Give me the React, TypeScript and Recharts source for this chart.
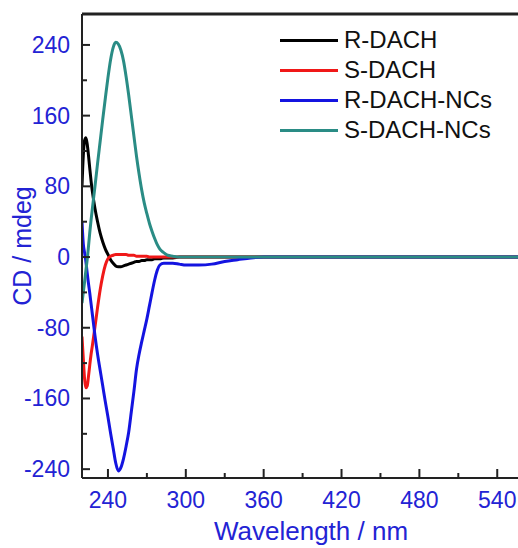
import { Legend, Line, LineChart, ReferenceLine, XAxis, YAxis } from "recharts"

const wavelengths = [
  220, 221, 222, 223, 224, 225, 226, 227, 228, 230, 232, 234, 236, 238, 240, 242, 244, 246, 248, 250,
  252, 254, 256, 258, 260, 262, 264, 266, 268, 270, 272, 274, 276, 278, 280, 283, 286, 290, 295, 300,
  310, 320, 330, 340, 350, 360, 380, 400, 420, 440, 460, 480, 500, 520, 540, 556,
]

const rDach = [
  80, 115, 132, 135, 128, 115, 100, 86, 74, 55, 40, 27, 17, 9, 3, -3, -7, -10, -11, -11,
  -10, -9, -8, -7, -6, -5, -5, -4, -4, -3, -3, -3, -2, -2, -2, -1, -1, -1, 0, 0,
  0, 0, 0, 0, 0, 0, 0, 0, 0, 0, 0, 0, 0, 0, 0, 0,
]

const sDach = [
  -90, -115, -138, -148, -146, -135, -122, -110, -100, -79, -57, -37, -21, -9, -2, 1, 2, 3, 3, 3,
  3, 3, 2, 2, 2, 1, 1, 1, 1, 1, 0, 0, 0, 0, 0, 0, 0, 0, 0, 0,
  0, 0, 0, 0, 0, 0, 0, 0, 0, 0, 0, 0, 0, 0, 0, 0,
]

const rDachNcs = [
  40, 15, 5, -5, -18, -30, -41, -53, -65, -89, -110, -128, -146, -164, -181, -199, -216, -233, -242, -238,
  -228, -214, -198, -175, -152, -127, -110, -96, -83, -70, -55, -40, -26, -15, -9, -7, -7, -7, -8, -9,
  -9, -8, -5, -3, -1, 0, 0, 0, 0, 0, 0, 0, 0, 0, 0, 0,
]

const sDachNcs = [
  -52, -40, -28, -15, -3, 12, 28, 42, 55, 80, 106, 131, 156, 180, 203, 223, 237, 243, 241, 234,
  222, 204, 183, 160, 137, 114, 94, 76, 61, 49, 38, 29, 21, 14, 9, 5, 2, 1, 0, 0,
  0, 0, 0, 0, 0, 0, 0, 0, 0, 0, 0, 0, 0, 0, 0, 0,
]

const seriesNames = ["R-DACH", "S-DACH", "R-DACH-NCs", "S-DACH-NCs"]
const seriesKeys = ["r", "s", "rn", "sn"]
const seriesColors = ["#000000", "#f01818", "#1414e0", "#2a8c85"]

const xTicks = [240, 270, 300, 330, 360, 390, 420, 450, 480, 510, 540]
const yTicks = [-240, -200, -160, -120, -80, -40, 0, 40, 80, 120, 160, 200, 240]

const data = wavelengths.map((wl, i) => ({
  wl,
  r: rDach[i],
  s: sDach[i],
  rn: rDachNcs[i],
  sn: sDachNcs[i],
}))

const FONT = "'Liberation Sans', Arial, sans-serif"
const BLUE = "#2323d4"
const AXIS = "#222222"

function YTick(props: any) {
  const { x, y, payload } = props
  const major = payload.value % 80 === 0
  return (
    <g>
      <path d={`M${x + 12},${y}h${major ? 8 : 5}`} stroke={AXIS} strokeWidth={2} fill="none" />
      {major && (
        <text x={x} y={y} dy={8} textAnchor="end" fill={BLUE} stroke="none" fontSize={23} fontFamily={FONT}>
          {payload.value}
        </text>
      )}
    </g>
  )
}

function XTick(props: any) {
  const { x, y, payload } = props
  const major = payload.value % 60 === 0
  return (
    <g>
      <path d={`M${x},${y}v${major ? -9 : -5}`} stroke={AXIS} strokeWidth={2} fill="none" />
      {major && (
        <text x={x} y={y + 30} textAnchor="middle" fill={BLUE} stroke="none" fontSize={23} fontFamily={FONT}>
          {payload.value}
        </text>
      )}
    </g>
  )
}

function YTitle({ viewBox }: any) {
  const cx = viewBox.x + 22
  const cy = viewBox.y + viewBox.height / 2
  return (
    <text
      x={cx}
      y={cy}
      transform={`rotate(-90 ${cx} ${cy})`}
      textAnchor="middle"
      dominantBaseline="central"
      fill={BLUE}
      fontSize={25}
      fontFamily={FONT}
    >
      CD / mdeg
    </text>
  )
}

function XTitle({ viewBox }: any) {
  const cx = viewBox.x + viewBox.width / 2 + 11
  const cy = viewBox.y + 62
  return (
    <text x={cx} y={cy} textAnchor="middle" fill={BLUE} fontSize={26} fontFamily={FONT}>
      Wavelength / nm
    </text>
  )
}

function LegendBox() {
  return (
    <div style={{ fontFamily: FONT, fontSize: 24, lineHeight: "30px", color: "#111" }}>
      {seriesNames.map((name, i) => (
        <div key={name} style={{ display: "flex", alignItems: "center", whiteSpace: "nowrap" }}>
          <span
            style={{ display: "inline-block", width: 58, height: 3, background: seriesColors[i], marginRight: 6 }}
          />
          {name}
        </div>
      ))}
    </div>
  )
}

export default function App() {
  return (
    <div style={{ position: "absolute", left: 0, top: 0, background: "#fff" }}>
      <LineChart width={518} height={548} data={data} margin={{ top: 14, right: 0, bottom: 0, left: 0 }}>
        <XAxis
          dataKey="wl"
          type="number"
          domain={[220, 556]}
          ticks={xTicks}
          interval={0}
          height={70}
          tickSize={0}
          tickMargin={0}
          tickLine={false}
          stroke={AXIS}
          strokeWidth={2}
          tick={<XTick />}
          label={<XTitle />}
          allowDataOverflow
        />
        <YAxis
          type="number"
          domain={[-250, 275]}
          ticks={yTicks}
          interval={0}
          width={82}
          tickSize={0}
          tickMargin={12}
          tickLine={false}
          stroke={AXIS}
          strokeWidth={2}
          tick={<YTick />}
          label={<YTitle />}
          allowDataOverflow
        />
        <ReferenceLine y={275} stroke={AXIS} strokeWidth={3} />
        {seriesKeys.map((key, i) => (
          <Line
            key={key}
            dataKey={key}
            name={seriesNames[i]}
            type="monotone"
            stroke={seriesColors[i]}
            strokeWidth={3}
            dot={false}
            isAnimationActive={false}
          />
        ))}
        <Legend
          layout="vertical"
          align="center"
          verticalAlign="middle"
          content={<LegendBox />}
          wrapperStyle={{ left: 280, top: 25, width: 240 }}
        />
      </LineChart>
    </div>
  )
}
